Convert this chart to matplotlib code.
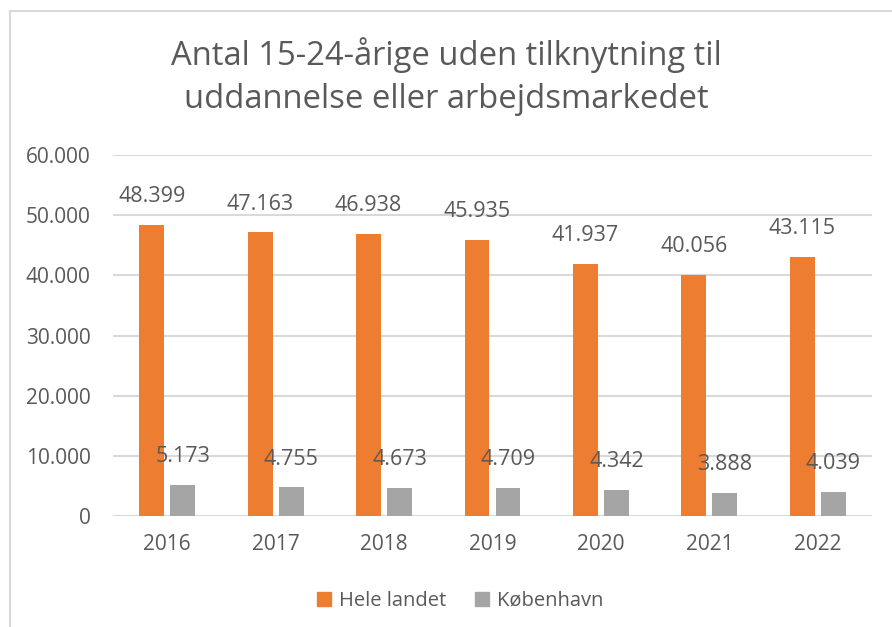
import numpy as np
import matplotlib
matplotlib.use("Agg")
import matplotlib.pyplot as plt
from matplotlib.lines import Line2D
from matplotlib.patches import Patch

plt.rcParams["font.family"] = ["Open Sans", "DejaVu Sans"]

years = ["2016", "2017", "2018", "2019", "2020", "2021", "2022"]
hele_landet = [48399, 47163, 46938, 45935, 41937, 40056, 43115]
koebenhavn = [5173, 4755, 4673, 4709, 4342, 3888, 4039]
series_names = ["Hele landet", "København"]

TXT = "#595959"
ORANGE = "#ED7D31"
GRAY = "#A5A5A5"
GRID = "#D9D9D9"


def fmt(v):
    return f"{v:,}".replace(",", ".")


fig = plt.figure(figsize=(8.92, 6.27), dpi=100)
ax = fig.add_axes([113 / 892, 1 - 516 / 627, (872 - 113) / 892, (516 - 155) / 627])

x = np.arange(len(years))
w = 0.23
off = 0.143
ax.bar(x - off, hele_landet, w, color=ORANGE, zorder=3)
ax.bar(x + off, koebenhavn, w, color=GRAY, zorder=3)

# data labels sit ~28 px above each bar top
px = 60000 / (516 - 155)
for xi, v in zip(x, hele_landet):
    ax.text(xi - off, v + 28 * px, fmt(v), ha="center", va="center", fontsize=15.5, color=TXT)
for xi, v in zip(x, koebenhavn):
    ax.text(xi + off, v + 28 * px, fmt(v), ha="center", va="center", fontsize=15.5, color=TXT)

ax.set_xlim(-0.5, len(years) - 0.5)
ax.set_ylim(0, 60000)
ax.set_yticks(np.arange(0, 60001, 10000))
ax.set_yticklabels([fmt(v) for v in range(0, 60001, 10000)])
ax.set_xticks(x)
ax.set_xticklabels(years)
ax.tick_params(length=0, labelsize=15, colors=TXT)
ax.tick_params(axis="y", pad=16)
ax.tick_params(axis="x", pad=13)
ax.yaxis.grid(True, color=GRID, lw=1.5, zorder=0)
for s in ax.spines.values():
    s.set_visible(False)

fig.text(0.5, 1 - 55 / 627, "Antal 15-24-årige uden tilknytning til", ha="center",
         va="center", fontsize=23.6, color=TXT)
fig.text(0.5, 1 - 100 / 627, "uddannelse eller arbejdsmarkedet", ha="center",
         va="center", fontsize=23.6, color=TXT)

handles = [Patch(color=ORANGE), Patch(color=GRAY)]
fig.legend(handles, series_names, loc="center", bbox_to_anchor=(460 / 892, 1 - 601 / 627),
           ncol=2, frameon=False, fontsize=14.5, labelcolor=TXT, handlelength=0.7,
           handleheight=0.7, handletextpad=0.4, columnspacing=1.4)

# chart-area border (top and left edges visible)
fig.add_artist(Line2D([10 / 892, 1], [1 - 11 / 627] * 2, color=GRID, lw=1.5))
fig.add_artist(Line2D([10 / 892] * 2, [0, 1 - 11 / 627], color=GRID, lw=1.5))

fig.savefig("out.png", dpi=100)
